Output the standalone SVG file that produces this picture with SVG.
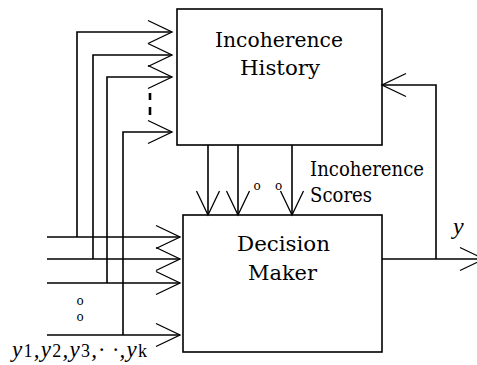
<svg xmlns="http://www.w3.org/2000/svg" width="477" height="365" viewBox="0 0 477 365">
  <style>
    .box { fill: #fff; stroke: #000; stroke-width: 1.6; }
    .ln { fill: none; stroke: #000; stroke-width: 1.6; }
    .head { fill: none; stroke: #000; stroke-width: 1.3; }
    .lbl { font-family: "DejaVu Serif", "Liberation Serif", serif; font-size: 20px; fill: #000; }
    .dot { font-family: "DejaVu Serif", "Liberation Serif", serif; font-size: 12px; fill: #000; text-anchor: middle; }
    .var { font-family: "Liberation Serif", "Times New Roman", serif; font-style: italic; fill: #000; }
  </style>
  <defs>
    <marker id="vh" markerUnits="userSpaceOnUse" viewBox="-26 -13 28 26" refX="0" refY="0" markerWidth="28" markerHeight="26" orient="auto" overflow="visible">
      <path class="head" d="M -24 -11.5 L 0 0 L -24 11.5"/>
    </marker>
  </defs>

  <g id="incoherence-history">
    <rect class="box" x="177" y="9" width="205" height="136"/>
    <text class="lbl" x="215" y="47" textLength="128" lengthAdjust="spacingAndGlyphs">Incoherence</text>
    <text class="lbl" x="240" y="75" textLength="80" lengthAdjust="spacingAndGlyphs">History</text>
  </g>

  <g id="decision-maker">
    <rect class="box" x="183" y="215" width="199" height="137"/>
    <text class="lbl" x="237" y="251" textLength="93" lengthAdjust="spacingAndGlyphs">Decision</text>
    <text class="lbl" x="248" y="280" textLength="69" lengthAdjust="spacingAndGlyphs">Maker</text>
  </g>

  <g id="connectors">
    <line class="ln" x1="47" y1="237" x2="180" y2="237" marker-end="url(#vh)"/>
    <line class="ln" x1="47" y1="259" x2="180" y2="259" marker-end="url(#vh)"/>
    <line class="ln" x1="47" y1="283" x2="180" y2="283" marker-end="url(#vh)"/>
    <line class="ln" x1="47" y1="335" x2="180" y2="335" marker-end="url(#vh)"/>
    <polyline class="ln" points="77,237 77,32 172,32" marker-end="url(#vh)"/>
    <polyline class="ln" points="93,259 93,55 172,55" marker-end="url(#vh)"/>
    <polyline class="ln" points="107,283 107,77 172,77" marker-end="url(#vh)"/>
    <polyline class="ln" points="123,335 123,132 172,132" marker-end="url(#vh)"/>
    <path d="M 150 93 V 100 M 150 107 V 115" fill="none" stroke="#000" stroke-width="2.6"/>
    <line class="ln" x1="208" y1="145" x2="208" y2="215" marker-end="url(#vh)"/>
    <line class="ln" x1="238" y1="145" x2="238" y2="215" marker-end="url(#vh)"/>
    <line class="ln" x1="292" y1="145" x2="292" y2="215" marker-end="url(#vh)"/>
    <line class="ln" x1="382" y1="259" x2="484" y2="259" marker-end="url(#vh)"/>
    <polyline class="ln" points="436,259 436,85 382,85" marker-end="url(#vh)"/>
  </g>

  <g id="labels">
    <text class="dot" x="80" y="305">o</text>
    <text class="dot" x="80" y="321">o</text>
    <text class="dot" x="257" y="190">o</text>
    <text class="dot" x="278.5" y="190">o</text>
    <text class="lbl" x="310" y="176" textLength="114" lengthAdjust="spacingAndGlyphs">Incoherence</text>
    <text class="lbl" x="310" y="202" textLength="62" lengthAdjust="spacingAndGlyphs">Scores</text>
    <text class="var" x="453" y="234" font-size="24">y</text>
    <text class="var" x="12" y="357" font-size="23" textLength="135" lengthAdjust="spacing">y<tspan font-style="normal" font-size="18">1</tspan>,y<tspan font-style="normal" font-size="18">2</tspan>,y<tspan font-style="normal" font-size="18">3</tspan>,· ·,y<tspan font-style="normal" font-size="18">k</tspan></text>
  </g>
</svg>
